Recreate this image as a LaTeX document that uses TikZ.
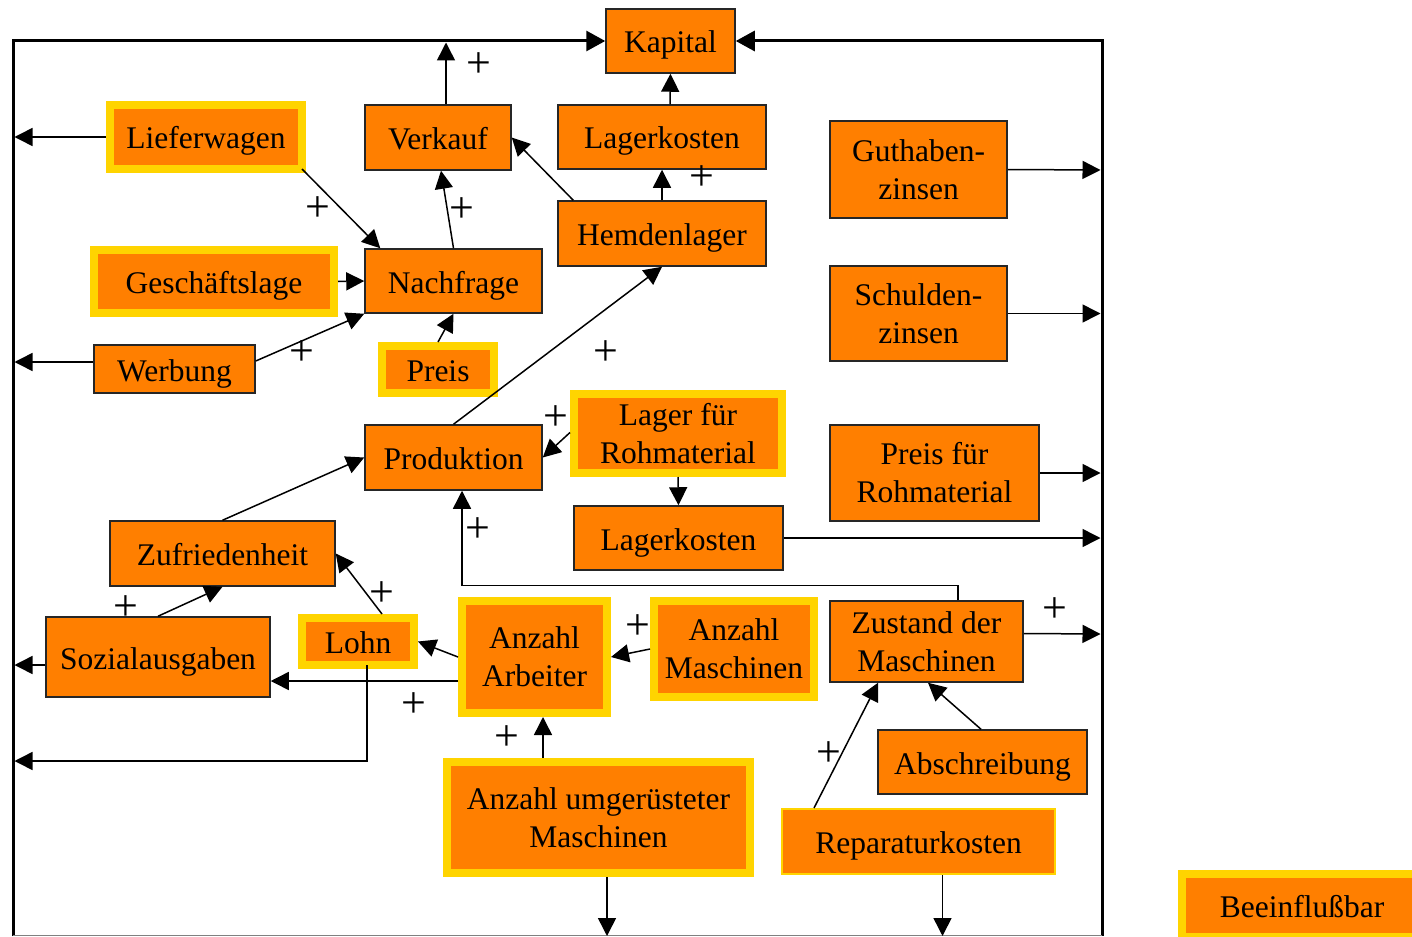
\documentclass[tikz,border=0pt]{standalone}
\usepackage{fontspec}
\setmainfont{Liberation Serif}
\usetikzlibrary{arrows.meta,calc}
\definecolor{boxorange}{RGB}{255,127,0}
\definecolor{boxyellow}{RGB}{255,212,0}
\tikzset{
  box/.style={draw=black!85, fill=boxorange, line width=1.5pt, inner sep=0pt, align=center, text=black, font=\fontsize{31.5}{38}\selectfont},
  ybox/.style={box, draw=boxyellow, line width=8pt},
  tbox/.style={box, draw=boxyellow, line width=2pt},
  sl/.style={text height=24pt, text depth=0pt},
  conn/.style={line width=1.5pt, -{Triangle[length=18pt,width=18pt]}},
  framearr/.style={line width=3pt, -{Triangle[length=19pt,width=20pt]}},
  plus/.style={inner sep=0pt, font=\fontsize{44}{44}\selectfont}
}
\begin{document}
\begin{tikzpicture}[x=1pt,y=-1pt]
\useasboundingbox (0,0) rectangle (1412,936);
\clip (0,0) rectangle (1412,936);
\fill[white] (0,0) rectangle (1412,936);

% nodes
\node[box,sl,minimum width=129pt,minimum height=64pt] (kapital) at (670.5,41) {Kapital};
\node[box,sl,minimum width=208pt,minimum height=64pt] (lager1) at (662,137) {Lagerkosten};
\node[box,sl,minimum width=208pt,minimum height=65pt] (hemd) at (662,233.5) {Hemdenlager};
\node[box,sl,minimum width=146pt,minimum height=65pt] (verkauf) at (438,137.5) {Verkauf};
\node[box,sl,minimum width=177pt,minimum height=64pt] (nachfrage) at (453.5,281) {Nachfrage};
\node[box,sl,minimum width=161pt,minimum height=48pt] (werbung) at (174.5,369) {Werbung};
\node[box,minimum width=177pt,minimum height=97pt] (guthaben) at (918.5,169.5) {Guthaben-\\zinsen};
\node[box,minimum width=177pt,minimum height=95pt] (schulden) at (918.5,313.5) {Schulden-\\zinsen};
\node[box,sl,minimum width=177pt,minimum height=65pt] (produktion) at (453.5,457.5) {Produktion};
\node[box,sl,minimum width=209pt,minimum height=64pt] (lager2) at (678.5,538) {Lagerkosten};
\node[box,minimum width=209pt,minimum height=96pt] (preisroh) at (934.5,473) {Preis für\\Rohmaterial};
\node[box,sl,minimum width=225pt,minimum height=65pt] (zufried) at (222.5,553.5) {Zufriedenheit};
\node[box,sl,minimum width=224pt,minimum height=80pt] (sozial) at (158,657) {Sozialausgaben};
\node[box,minimum width=193pt,minimum height=81pt] (zustand) at (926.5,641.5) {Zustand der\\Maschinen};
\node[box,sl,minimum width=209pt,minimum height=64pt] (abschr) at (982.5,762) {Abschreibung};

\node[ybox,sl,minimum width=192pt,minimum height=64pt] (liefer) at (206,137) {Lieferwagen};
\node[ybox,sl,minimum width=240pt,minimum height=63pt] (gesch) at (214,281.5) {Geschäftslage};
\node[ybox,sl,minimum width=112pt,minimum height=47pt] (preis) at (438,369.5) {Preis};
\node[ybox,minimum width=208pt,minimum height=79pt] (lagerroh) at (678,433.5) {Lager für\\Rohmaterial};
\node[ybox,sl,minimum width=112pt,minimum height=47pt] (lohn) at (358,641.5) {Lohn};
\node[ybox,minimum width=145pt,minimum height=112pt] (arbeiter) at (534.5,657) {Anzahl\\Arbeiter};
\node[ybox,minimum width=160pt,minimum height=96pt] (maschinen) at (734,649) {Anzahl\\Maschinen};
\node[ybox,minimum width=303pt,minimum height=111pt] (umger) at (598.5,817.5) {Anzahl umgerüsteter\\Maschinen};
\node[tbox,sl,minimum width=273pt,minimum height=65pt] (repar) at (918.5,841.5) {Reparaturkosten};
\node[ybox,sl,minimum width=240pt,minimum height=63pt] (beein) at (1302,905) {Beeinflußbar};

% frame
\coordinate (fbl) at (13,936);
\coordinate (fbr) at (1102,936);
\draw[framearr] (fbl) |- (kapital.west);
\draw[framearr] (fbr) |- (kapital.east);
\draw[gray, line width=1pt] (13,935.5) -- (1102,935.5);

% free ends on the frame
\coordinate (tVerk) at (446,42.5);
\coordinate (lLief) at (14.5,137);
\coordinate (lWerb) at (14.5,362);
\coordinate (lSoz) at (14.5,665);
\coordinate (lLohn) at (14.5,761);
\coordinate (rGut) at (1100.5,170);
\coordinate (rSchuld) at (1100.5,313.5);
\coordinate (rPreis) at (1100.5,473);
\coordinate (rLag) at (1100.5,538);
\coordinate (rZust) at (1100.5,634);
\coordinate (bUmg) at (607,936);
\coordinate (bRep) at (942.5,936);

% connectors
\draw[conn] ([xshift=8pt]verkauf.north) -- (tVerk);
\draw[conn] ([xshift=8pt]lager1.north) -- (kapital.south);
\draw[conn] (hemd.north) -- (lager1.south);
\draw[conn] ([xshift=16pt]hemd.north west) -- (verkauf.east);
\draw[conn] ([xshift=-4pt,yshift=4pt]liefer.south east) -- ([xshift=16pt]nachfrage.north west);
\draw[conn] (liefer.west) -- (lLief);
\draw[conn] (nachfrage.north) -- ([xshift=3pt]verkauf.south);
\draw[conn] (gesch.east) -- (nachfrage.west);
\draw[conn] ([yshift=8pt]werbung.east) -- (nachfrage.south west);
\draw[conn] ([yshift=7pt]werbung.west) -- (lWerb);
\draw[conn] (preis.north) -- (nachfrage.south);
\draw[conn] (produktion.north) -- (hemd.south);
\draw[conn] ([yshift=1pt]lagerroh.west) -- (produktion.east);
\draw[conn] (lagerroh.south) -- (lager2.north);
\draw[conn] (lager2.east) -- (rLag);
\draw[conn] (guthaben.east) -- (rGut);
\draw[conn] (schulden.east) -- (rSchuld);
\draw[conn] (preisroh.east) -- (rPreis);
\draw[conn] ([yshift=8pt]zustand.east) -- (rZust);
\draw[conn] ([xshift=31.5pt]zustand.north) -- ++(0,-15) -| ([xshift=8.5pt]produktion.south);
\draw[conn] ([xshift=-1.5pt]abschr.north) -- ([xshift=1.5pt]zustand.south);
\draw[conn] ([xshift=-104.5pt]repar.north) -- ([xshift=-48.5pt]zustand.south);
\draw[conn] ([xshift=24pt]repar.south) -- (bRep);
\draw[conn] ([xshift=8.5pt]umger.south) -- (bUmg);
\draw[conn] ([xshift=-55.5pt]umger.north) -- ([xshift=8.5pt]arbeiter.south);
\draw[conn] (maschinen.west) -- (arbeiter.east);
\draw[conn] (arbeiter.west) -- (lohn.east);
\draw[conn] ([yshift=-24pt]arbeiter.west) -- ([yshift=-24pt]sozial.east);
\draw[conn] ([xshift=9pt,yshift=4pt]lohn.south) |- (lLohn);
\draw[conn] ([xshift=24pt]lohn.north) -- (zufried.east);
\draw[conn] (sozial.north) -- (zufried.south);
\draw[conn] ([yshift=-8pt]sozial.west) -- (lSoz);
\draw[conn] (zufried.north) -- (produktion.west);

% plus labels
\node[plus] (p1) at (479,65) {+};
\node[plus] (p2) at (702,178) {+};
\node[plus] (p3) at (318,209) {+};
\node[plus] (p4) at (462,210) {+};
\node[plus] (p5) at (302,353) {+};
\node[plus] (p6) at (606,353) {+};
\node[plus] (p7) at (556,418) {+};
\node[plus] (p8) at (478,530) {+};
\node[plus] (p9) at (382,594) {+};
\node[plus] (p10) at (126,608) {+};
\node[plus] (p11) at (1055,610) {+};
\node[plus] (p12) at (638,627) {+};
\node[plus] (p13) at (414,705) {+};
\node[plus] (p14) at (507,738) {+};
\node[plus] (p15) at (829,754) {+};
\end{tikzpicture}
\end{document}
